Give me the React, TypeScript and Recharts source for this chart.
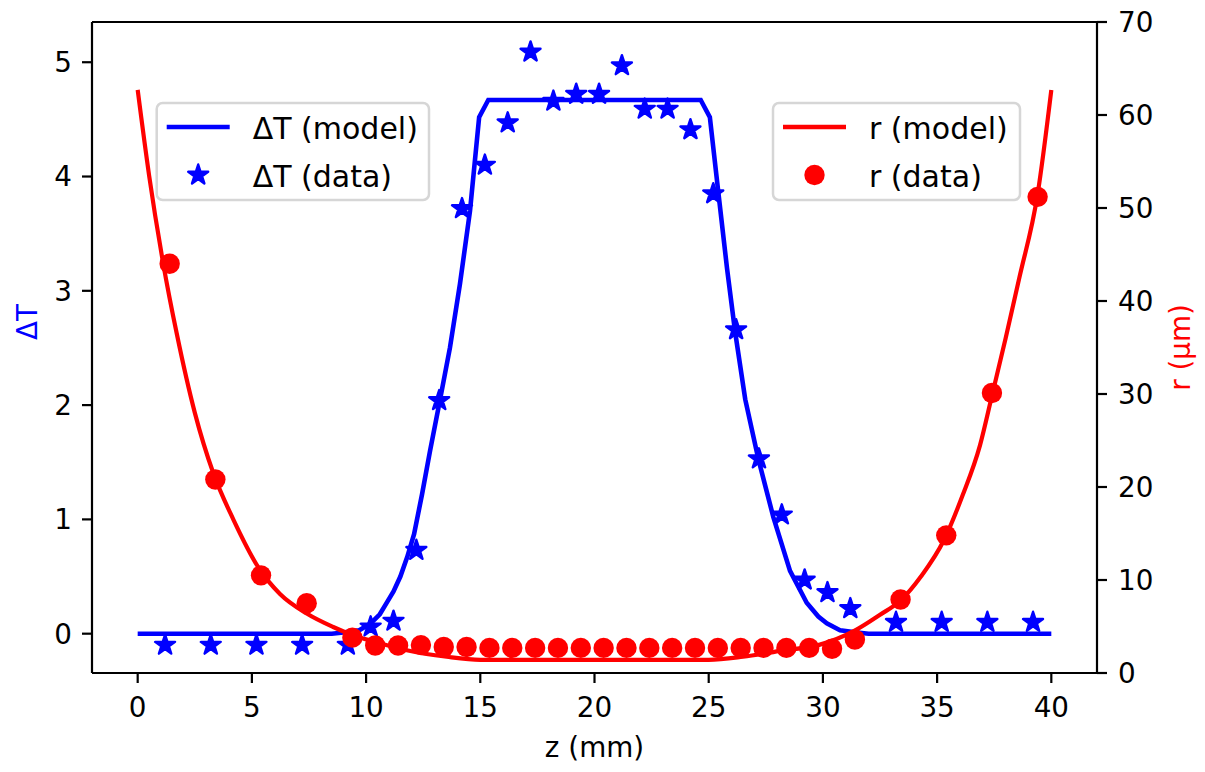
import React from 'react';
import {
  ComposedChart,
  Line,
  Scatter,
  XAxis,
  YAxis,
  Label,
  ReferenceLine,
} from 'recharts';

// measured ΔT points (stars)
const dtDataZ = [
  1.2, 3.2, 5.2, 7.2, 9.2, 10.2, 11.2, 12.2, 13.2, 14.2, 15.2, 16.2, 17.2, 18.2, 19.2, 20.2,
  21.2, 22.2, 23.2, 24.2, 25.2, 26.2, 27.2, 28.2, 29.2, 30.2, 31.2, 33.2, 35.2, 37.2, 39.2,
];
const dtDataValues = [
  -0.1, -0.1, -0.1, -0.1, -0.1, 0.06, 0.11, 0.73, 2.04, 3.72, 4.1, 4.47, 5.09, 4.66, 4.72, 4.72,
  4.97, 4.59, 4.59, 4.41, 3.85, 2.66, 1.53, 1.04, 0.47, 0.36, 0.22, 0.1, 0.1, 0.1, 0.1,
];

// ΔT model curve
const dtModelZ = [
  0, 8.5, 9.0, 9.7, 10.2, 10.6, 10.9, 11.2, 11.5, 11.8, 12.1, 12.45, 12.8, 13.24, 13.67, 14.11,
  14.55, 14.95, 15.35, 24.65, 25.05, 25.4, 25.8, 26.15, 26.6, 27.17, 27.83, 28.56, 29.29, 29.8,
  30.17, 30.75, 31.5, 32.0, 40,
];
const dtModelValues = [
  0, 0, 0.01, 0.03, 0.09, 0.17, 0.27, 0.37, 0.5, 0.67, 0.87, 1.22, 1.6, 2.05, 2.5, 3.06,
  3.7, 4.52, 4.67, 4.67, 4.52, 3.9, 3.2, 2.65, 2.05, 1.53, 1.02, 0.55, 0.27, 0.15,
  0.09, 0.03, 0.01, 0, 0,
];

// measured r points (circles), µm
const rDataZ = [
  1.4, 3.4, 5.4, 7.4, 9.4, 10.4, 11.4, 12.4, 13.4, 14.4, 15.4, 16.4, 17.4, 18.4, 19.4, 20.4,
  21.4, 22.4, 23.4, 24.4, 25.4, 26.4, 27.4, 28.4, 29.4, 30.4, 31.4, 33.4, 35.4, 37.4, 39.4,
];
const rDataValues = [
  44.0, 20.8, 10.5, 7.5, 3.8, 2.95, 2.95, 3.0, 2.8, 2.8, 2.7, 2.7, 2.7, 2.7, 2.7, 2.7,
  2.7, 2.7, 2.7, 2.7, 2.7, 2.7, 2.7, 2.7, 2.7, 2.6, 3.6, 7.9, 14.8, 30.1, 51.2,
];

// r model curve
const rModelZ = [
  0, 0.5, 1.12, 1.71, 2.5, 3.31, 4.19, 5.35, 6.23, 7.4, 8.56, 9.44, 10.6, 11.78, 13.53, 15.0,
  25.0, 26.5, 28.2, 29.87, 31.33, 32.5, 33.4, 34.3, 35.3, 36.1, 36.88, 37.4, 38.0, 38.6, 39.4, 40.0,
];
const rModelValues = [
  62.7, 53.5, 44.0, 36.5, 28.0, 21.5, 16.5, 11.1, 8.5, 6.4, 4.95, 4.05, 3.2, 2.45, 1.75, 1.42,
  1.42, 1.75, 2.4, 3.05, 4.47, 6.26, 7.8, 10.4, 14.3, 19.0, 24.5, 29.8, 36.0, 42.5, 51.5, 62.7,
];

const zTicks = [0, 5, 10, 15, 20, 25, 30, 35, 40];
const dtTicks = [0, 1, 2, 3, 4, 5];
const rTicks = [0, 10, 20, 30, 40, 50, 60, 70];

const DT_DOMAIN: [number, number] = [-0.344, 5.352];
const BLUE = '#0000ff';
const RED = '#ff0000';
const FONT = '"DejaVu Sans", sans-serif';
const TICK = { fontSize: 27.8, fill: '#000', fontFamily: FONT };
const AXIS_LINE = { stroke: '#000', strokeWidth: 2.2 };

const dtModel = dtModelZ.map((z, i) => ({ z, dt: dtModelValues[i] }));
const dtData = dtDataZ.map((z, i) => ({ z, dt: dtDataValues[i] }));
const rModel = rModelZ.map((z, i) => ({ z, r: rModelValues[i] }));
const rData = rDataZ.map((z, i) => ({ z, r: rDataValues[i] }));

function starPoints(cx: number, cy: number, outer: number) {
  const inner = outer * 0.382;
  const pts: string[] = [];
  for (let i = 0; i < 10; i++) {
    const rad = i % 2 === 0 ? outer : inner;
    const a = -Math.PI / 2 + (i * Math.PI) / 5;
    pts.push(`${cx + rad * Math.cos(a)},${cy + rad * Math.sin(a)}`);
  }
  return pts.join(' ');
}

const Star = (props: any) => {
  const { cx, cy } = props;
  if (cx == null || cy == null) return null;
  return (
    <polygon
      points={starPoints(cx, cy, 10.5)}
      fill={BLUE}
      stroke={BLUE}
      strokeWidth={2.4}
      strokeLinejoin="round"
    />
  );
};

const Dot = (props: any) => {
  const { cx, cy } = props;
  if (cx == null || cy == null) return null;
  return <circle cx={cx} cy={cy} r={10.2} fill={RED} />;
};

const legendLeft = [
  { name: 'ΔT (model)', color: BLUE, kind: 'line' },
  { name: 'ΔT (data)', color: BLUE, kind: 'star' },
];
const legendRight = [
  { name: 'r (model)', color: RED, kind: 'line' },
  { name: 'r (data)', color: RED, kind: 'dot' },
];

function LegendBox({ x, y, w, items }: { x: number; y: number; w: number; items: typeof legendLeft }) {
  return (
    <g>
      <rect x={x} y={y} width={w} height={97} rx={6} fill="rgba(255,255,255,0.8)" stroke="#d6d6d6" strokeWidth={2.5} />
      {items.map((it, i) => {
        const cy = y + 24 + i * 48;
        const hx = x + 10;
        return (
          <g key={it.name}>
            {it.kind === 'line' && <line x1={hx} x2={hx + 63} y1={cy} y2={cy} stroke={it.color} strokeWidth={4.6} />}
            {it.kind === 'star' && (
              <polygon points={starPoints(hx + 31.5, cy, 10.5)} fill={it.color} stroke={it.color} strokeWidth={2.4} strokeLinejoin="round" />
            )}
            {it.kind === 'dot' && <circle cx={hx + 31.5} cy={cy} r={10.2} fill={it.color} />}
            <text x={hx + 86} y={cy + 11.5} fontSize={30} fontFamily={FONT} fill="#000">
              {it.name}
            </text>
          </g>
        );
      })}
    </g>
  );
}

export default function App() {
  return (
    <div style={{ position: 'absolute', left: 0, top: 0, width: 1205, height: 772, background: '#fff' }}>
      <ComposedChart width={1205} height={772} margin={{ top: 22, right: 0, bottom: 0, left: 0 }}>
        <XAxis
          dataKey="z"
          type="number"
          domain={[-2, 42]}
          allowDataOverflow
          ticks={zTicks}
          height={99}
          tick={TICK}
          tickSize={10}
          tickMargin={14}
          tickLine={AXIS_LINE}
          axisLine={AXIS_LINE}
        >
          <Label
            content={(p: any) => (
              <text x={p.viewBox.x + p.viewBox.width / 2} y={757} textAnchor="middle" fontSize={27.8} fontFamily={FONT} fill="#000">
                z (mm)
              </text>
            )}
          />
        </XAxis>
        <YAxis
          yAxisId="dt"
          type="number"
          domain={DT_DOMAIN}
          allowDataOverflow
          ticks={dtTicks}
          width={92}
          tick={TICK}
          tickSize={10}
          tickMargin={10}
          tickLine={AXIS_LINE}
          axisLine={AXIS_LINE}
        >
          <Label
            content={() => (
              <text x={37} y={322} transform="rotate(-90 37 322)" textAnchor="middle" fontSize={27.8} fontFamily={FONT} fill={BLUE}>
                ΔT
              </text>
            )}
          />
        </YAxis>
        <YAxis
          yAxisId="r"
          orientation="right"
          type="number"
          domain={[0, 70]}
          allowDataOverflow
          ticks={rTicks}
          width={108}
          tick={TICK}
          tickSize={10}
          tickMargin={11}
          tickLine={AXIS_LINE}
          axisLine={AXIS_LINE}
        >
          <Label
            content={() => (
              <text x={1190} y={347.5} transform="rotate(-90 1190 347.5)" textAnchor="middle" fontSize={27.8} fontFamily={FONT} fill={RED}>
                r (µm)
              </text>
            )}
          />
        </YAxis>
        {/* top spine */}
        <ReferenceLine yAxisId="dt" y={DT_DOMAIN[1]} stroke="#000" strokeWidth={2.2} ifOverflow="visible" />
        <Line
          data={dtModel}
          dataKey="dt"
          yAxisId="dt"
          type="linear"
          stroke={BLUE}
          strokeWidth={4.6}
          dot={false}
          activeDot={false}
          isAnimationActive={false}
        />
        <Scatter data={dtData} dataKey="dt" yAxisId="dt" shape={Star} isAnimationActive={false} />
        <Line
          data={rModel}
          dataKey="r"
          yAxisId="r"
          type="monotone"
          stroke={RED}
          strokeWidth={4.2}
          dot={false}
          activeDot={false}
          isAnimationActive={false}
        />
        <Scatter data={rData} dataKey="r" yAxisId="r" shape={Dot} isAnimationActive={false} />
      </ComposedChart>
      <svg width={1205} height={772} style={{ position: 'absolute', left: 0, top: 0, pointerEvents: 'none' }}>
        <LegendBox x={156.7} y={103} w={272.3} items={legendLeft} />
        <LegendBox x={773} y={103} w={247} items={legendRight} />
      </svg>
    </div>
  );
}
